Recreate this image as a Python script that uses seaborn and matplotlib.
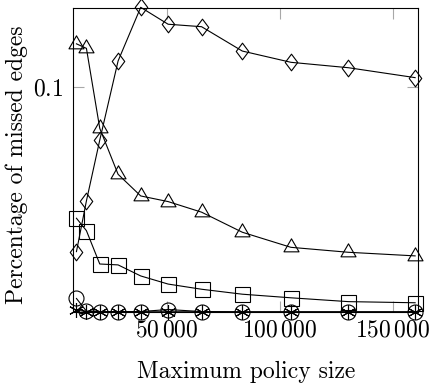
import numpy as np
import matplotlib
matplotlib.use('Agg')
import matplotlib.pyplot as plt
from matplotlib.path import Path
import seaborn as sns

# values
policy_size = [10200, 14600, 20500, 28600, 38600, 50700, 65500, 83500, 105000, 130400, 159900]
diamond_vals = [0.0268, 0.0493, 0.0763, 0.1114, 0.1352, 0.1277, 0.1266, 0.1158, 0.1108, 0.1084, 0.1040]
triangle_vals = [0.1190, 0.1170, 0.0815, 0.0611, 0.0515, 0.0490, 0.0443, 0.0354, 0.0287, 0.0265, 0.0249]
square_vals = [0.0416, 0.0361, 0.0213, 0.0209, 0.0160, 0.0124, 0.0101, 0.0079, 0.0063, 0.0046, 0.0041]
circle_vals = [0.0060, 0.0004, 0.0002, 0.0002, 0.0002, 0.0011, 0.0002, 0.0001, 0.0001, 0.0001, 0.0001]
star_vals = [0.0008, 0.0002, 0.0001, 0.0001, 0.0001, 0.0001, 0.0001, 0.0000, 0.0000, 0.0000, 0.0000]

x_ticks = [50000, 100000, 150000]
x_ticklabels = [r'$50\,000$', r'$100\,000$', r'$150\,000$']
y_ticks = [0.1]
y_ticklabels = [r'$0.1$']

plt.rcParams['mathtext.fontset'] = 'cm'
plt.rcParams['font.family'] = 'cmr10'
plt.rcParams['axes.unicode_minus'] = False

# pgfplots-like marks
diamond = Path([(0, 1), (0.75, 0), (0, -1), (-0.75, 0), (0, 1)],
               [Path.MOVETO, Path.LINETO, Path.LINETO, Path.LINETO, Path.CLOSEPOLY])
triangle = Path([(0, 1), (-0.866, -0.5), (0.866, -0.5), (0, 1)],
                [Path.MOVETO, Path.LINETO, Path.LINETO, Path.CLOSEPOLY])

fig = plt.figure(figsize=(4.3, 3.85), dpi=100)
ax = fig.add_axes([73 / 430, 1 - 312 / 385, (418.3 - 73) / 430, (312 - 8) / 385])

series = [
    (diamond_vals, diamond, 12),
    (triangle_vals, triangle, 12.5),
    (square_vals, 's', 10.8),
    (circle_vals, 'o', 10.8),
    (star_vals, (6, 2, 0), 10.8),
]
for vals, mk, ms in series:
    sns.lineplot(x=policy_size, y=vals, ax=ax, color='black', linewidth=0.8,
                 marker=mk, markersize=ms, markerfacecolor='none',
                 markeredgecolor='black', markeredgewidth=0.8, clip_on=False)

ax.set_xlim(8670, 161300)
ax.set_ylim(0, 0.1349)

ax.set_xticks(x_ticks)
ax.set_xticklabels(x_ticklabels, fontsize=17)
ax.set_yticks(y_ticks)
ax.set_yticklabels(y_ticklabels, fontsize=17)
ax.minorticks_off()
ax.tick_params(direction='in', length=8, width=0.8, color='#a8a8a8',
               top=True, right=True, pad=5)
ax.tick_params(axis='y', pad=7)

for sp in ax.spines.values():
    sp.set_linewidth(0.8)
    sp.set_color('black')

ax.set_xlabel('Maximum policy size', fontsize=17, fontfamily='cmr10', labelpad=14)
ax.set_ylabel('Percentage of missed edges', fontsize=17, fontfamily='cmr10')
ax.yaxis.set_label_coords(-0.13, 0.484)

fig.savefig('out.png', dpi=100)
